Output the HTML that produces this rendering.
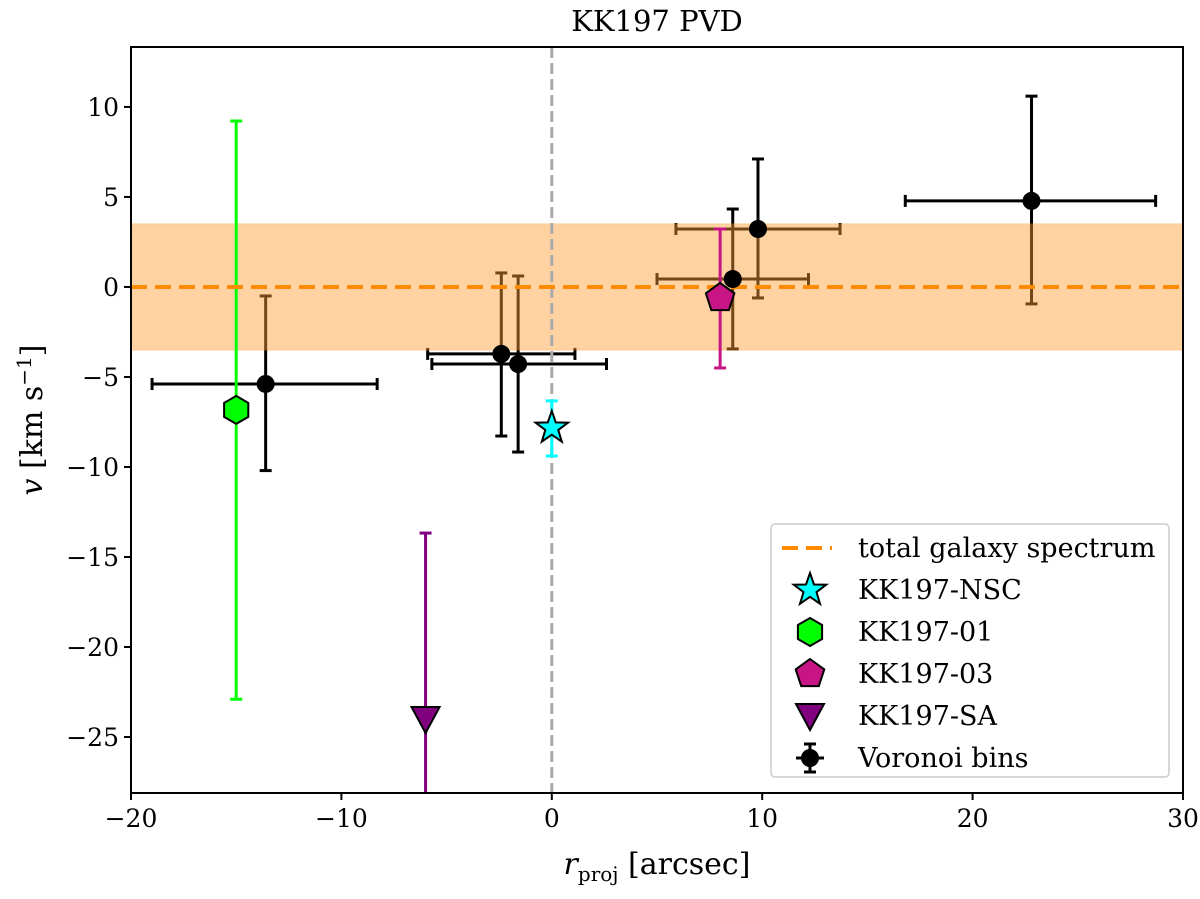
<!DOCTYPE html>
<html><head><meta charset="utf-8"><style>
body{margin:0;background:#fff}
svg text{font-family:"DejaVu Serif","Liberation Serif",serif;fill:#000}
</style></head><body>
<svg id="chart" width="1200" height="894" xmlns="http://www.w3.org/2000/svg">
<g id="plot"></g>
</svg>
<script>
const voronoiX=[-13.6,-2.4,-1.6,8.6,9.8,22.8];
const voronoiY=[-5.39,-3.72,-4.28,0.44,3.22,4.78];
const voronoiXlo=[-19.0,-5.9,-5.7,5.0,5.9,16.8];
const voronoiXhi=[-8.3,1.1,2.6,12.2,13.7,28.7];
const voronoiYlo=[-10.2,-8.28,-9.17,-3.44,-0.61,-0.94];
const voronoiYhi=[-0.5,0.78,0.61,4.33,7.11,10.6];
const gcNames=["KK197-NSC","KK197-01","KK197-03","KK197-SA"];
const gcX=[0,-15,8,-6];
const gcY=[-7.83,-6.83,-0.61,-24.0];
const gcYlo=[-9.39,-22.9,-4.5,-34];
const gcYhi=[-6.33,9.22,3.22,-13.67];
const totalV=0, totalErr=3.5;
const xTicks=[-20,-10,0,10,20,30];
const yTicks=[10,5,0,-5,-10,-15,-20,-25];

const L=131,R=1183,T=47,B=793,X0=-20,X1=30,Y0=-28.11,Y1=13.33;
const sx=v=>L+(v-X0)/(X1-X0)*(R-L);
const sy=v=>B-(v-Y0)/(Y1-Y0)*(B-T);
const NS="http://www.w3.org/2000/svg";
const svg=document.getElementById('chart');
const plot=document.getElementById('plot');
function mk(tag,attrs,parent){const e=document.createElementNS(NS,tag);for(const k in attrs)e.setAttribute(k,attrs[k]);(parent||plot).appendChild(e);return e;}
const clipDef=mk('defs',{},svg);
const cp=mk('clipPath',{id:'clip'},clipDef);mk('rect',{x:L,y:T,width:R-L,height:B-T},cp);
const g=mk('g',{'clip-path':'url(#clip)'});



voronoiX.forEach((x,i)=>{
  const vg=mk('g',{},g);
  
  
  const st={stroke:'#000','stroke-width':3};
  mk('line',Object.assign({x1:sx(voronoiXlo[i]),x2:sx(voronoiXhi[i]),y1:sy(voronoiY[i]),y2:sy(voronoiY[i])},st),vg);
  mk('line',Object.assign({x1:sx(x),x2:sx(x),y1:sy(voronoiYlo[i]),y2:sy(voronoiYhi[i])},st),vg);
  [voronoiYlo[i],voronoiYhi[i]].forEach(v=>mk('line',Object.assign({x1:sx(x)-6,x2:sx(x)+6,y1:sy(v),y2:sy(v)},st),vg));
  [voronoiXlo[i],voronoiXhi[i]].forEach(v=>mk('line',Object.assign({x1:sx(v),x2:sx(v),y1:sy(voronoiY[i])-6,y2:sy(voronoiY[i])+6},st),vg));
});
let band=mk('rect',{x:L,y:sy(totalV+totalErr),width:R-L,height:sy(totalV-totalErr)-sy(totalV+totalErr),fill:'#ff9d33',opacity:0.45,stroke:'#ff8c00','stroke-width':1},g);


let vline=mk('line',{x1:sx(0),x2:sx(0),y1:T,y2:B,stroke:'#aaa','stroke-width':3,'stroke-dasharray':'11,5'},g);



const gcCol=['#00ffff','#00ff00','#c71585','#800080'];
gcX.forEach((x,i)=>{
  const eg=mk('g',{},g);
  
  
  mk('line',{x1:sx(x),x2:sx(x),y1:sy(gcYlo[i]),y2:sy(gcYhi[i]),stroke:gcCol[i],'stroke-width':3},eg);
  [gcYlo[i],gcYhi[i]].forEach(v=>mk('line',{x1:sx(x)-6,x2:sx(x)+6,y1:sy(v),y2:sy(v),stroke:gcCol[i],'stroke-width':3},eg));
});
let tl=mk('line',{x1:L,x2:R,y1:sy(totalV),y2:sy(totalV),stroke:'#ff8c00','stroke-width':4,'stroke-dasharray':'16,8'},g);


voronoiX.forEach((x,i)=>{
  const c=mk('circle',{cx:sx(x),cy:sy(voronoiY[i]),r:9,fill:'#000'},g);
  
  
});
function starPts(cx,cy,r){let p=[];for(let k=0;k<10;k++){const a=-Math.PI/2+k*Math.PI/5,rr=k%2?r*0.4:r;p.push((cx+rr*Math.cos(a)).toFixed(1)+','+(cy+rr*Math.sin(a)).toFixed(1));}return p.join(' ');}
function polyPts(cx,cy,r,n,rot){let p=[];for(let k=0;k<n;k++){const a=rot+k*2*Math.PI/n;p.push((cx+r*Math.cos(a)).toFixed(1)+','+(cy+r*Math.sin(a)).toFixed(1));}return p.join(' ');}
function marker(i,cx,cy,parent){
  if(i===0)return mk('polygon',{points:starPts(cx,cy,17),fill:'#00ffff',stroke:'#000','stroke-width':2},parent);
  if(i===1)return mk('polygon',{points:polyPts(cx,cy,14,6,-Math.PI/2),fill:'#00ff00',stroke:'#000','stroke-width':2},parent);
  if(i===2)return mk('polygon',{points:polyPts(cx,cy,15,5,-Math.PI/2),fill:'#c71585',stroke:'#000','stroke-width':2},parent);
  return mk('polygon',{points:`${cx-14},${cy-12} ${cx+14},${cy-12} ${cx},${cy+14}`,fill:'#800080',stroke:'#000','stroke-width':2},parent);
}
gcX.forEach((x,i)=>{const m=marker(i,sx(x),sy(gcY[i]),g);
  
  });

let fr=mk('rect',{x:L,y:T,width:R-L,height:B-T,fill:'none',stroke:'#000','stroke-width':2});


xTicks.forEach(v=>{mk('line',{x1:sx(v),x2:sx(v),y1:B,y2:B+7,stroke:'#000','stroke-width':2});
  const t=mk('text',{x:sx(v),y:B+34,'font-size':25,'text-anchor':'middle'});t.textContent=(v<0?'−':'')+Math.abs(v);
  
  });
yTicks.forEach(v=>{mk('line',{x1:L-7,x2:L,y1:sy(v),y2:sy(v),stroke:'#000','stroke-width':2});
  const t=mk('text',{x:L-12,y:sy(v)+9,'font-size':25,'text-anchor':'end'});t.textContent=(v<0?'−':'')+Math.abs(v);
  
  });
let tt=mk('text',{x:(L+R)/2,y:31,'font-size':29,'text-anchor':'middle'});tt.textContent='KK197 PVD';


let xt=mk('text',{x:(L+R)/2,y:874,'font-size':30,'text-anchor':'middle'});
xt.innerHTML='<tspan font-style="italic">r</tspan><tspan font-size="20" dy="7">proj</tspan><tspan dy="-7"> [arcsec]</tspan>';


let yt=mk('text',{x:0,y:0,'font-size':30,'text-anchor':'middle',transform:`translate(42,${(T+B)/2}) rotate(-90)`});
yt.innerHTML='<tspan font-style="italic">v</tspan> [km s<tspan font-size="20" dy="-11">−1</tspan><tspan dy="11">]</tspan>';



const lg=mk('g',{});


mk('rect',{x:771,y:524,width:398,height:253,rx:4,fill:'#fff','fill-opacity':0.85,stroke:'#ccc','stroke-width':1.5},lg);
const rows=['total galaxy spectrum'].concat(gcNames).concat(['Voronoi bins']);
rows.forEach((name,k)=>{
  const y=548+k*42,ex=810;
  const eg=mk('g',{},lg);
  
  
  if(k===0)mk('line',{x1:782,x2:832,y1:y,y2:y,stroke:'#ff8c00','stroke-width':4,'stroke-dasharray':'16,8'},eg);
  else if(k<=4)marker(k-1,ex,y,eg);
  else{mk('line',{x1:ex-14,x2:ex+14,y1:y,y2:y,stroke:'#000','stroke-width':3},eg);mk('line',{x1:ex,x2:ex,y1:y-14,y2:y+14,stroke:'#000','stroke-width':3},eg);
    mk('line',{x1:ex-6,x2:ex+6,y1:y-14,y2:y-14,stroke:'#000','stroke-width':3},eg);mk('line',{x1:ex-6,x2:ex+6,y1:y+14,y2:y+14,stroke:'#000','stroke-width':3},eg);
    mk('circle',{cx:ex,cy:y,r:9,fill:'#000'},eg);}
  const t=mk('text',{x:858,y:y+9,'font-size':27},eg);t.textContent=name;
});
</script>
</body></html>
